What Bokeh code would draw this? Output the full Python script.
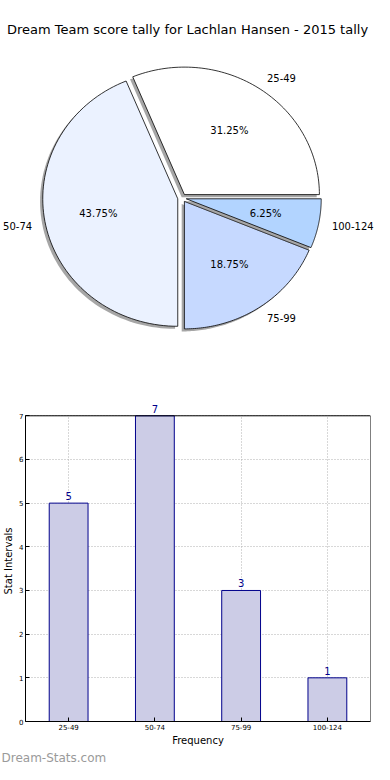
import numpy as np
from bokeh.plotting import figure
from bokeh.layouts import column, row
from bokeh.models import ColumnDataSource, FixedTicker, Label, FactorRange, Title
from bokeh.core.properties import value
from bokeh.embed import file_html
from bokeh.resources import INLINE

# ---- data ----
title_text = "Dream Team score tally for Lachlan Hansen - 2015 tally"
categories = ["25-49", "50-74", "75-99", "100-124"]
counts = [5, 7, 3, 1]
slice_colors = ["#FFFFFF", "#EBF2FF", "#C6D9FF", "#B2D4FF"]
y_ticks = [0, 1, 2, 3, 4, 5, 6, 7]
x_axis_label = "Frequency"
y_axis_label = "Stat Intervals"
watermark = "Dream-Stats.com"

FONT = value("DejaVu Sans")
explode = 0.032
shadow_off = 0.02

# ---- pie ----
p1 = figure(width=374, height=350, output_backend="svg", toolbar_location=None,
            x_range=(-1.3444, 1.4259), y_range=(-1.1961, 1.2353),
            x_axis_location=None, y_axis_location=None,
            min_border_left=0, min_border_right=0, min_border_bottom=0, min_border_top=40)
p1.title.text = title_text
p1.title.align = "center"
p1.title.offset = 5
p1.title.text_font = "DejaVu Sans"
p1.title.text_font_size = "13px"
p1.title.text_font_style = "normal"
p1.title.text_color = "black"
p1.title.standoff = 8
p1.grid.visible = False
p1.outline_line_color = None

total = float(sum(counts))
fracs = np.array(counts) / total
ends = np.cumsum(fracs) * 2 * np.pi
starts = ends - fracs * 2 * np.pi

pct_x, pct_y, pct_t = [], [], []
lab_x, lab_y, lab_align = [], [], []
for i in range(len(counts)):
    a0, a1 = starts[i], ends[i]
    mid = 0.5 * (a0 + a1)
    ox, oy = explode * np.cos(mid), explode * np.sin(mid)
    ang = np.linspace(a0, a1, 80)
    xs = np.concatenate([[ox], ox + np.cos(ang)])
    ys = np.concatenate([[oy], oy + np.sin(ang)])
    p1.patch(xs - shadow_off, ys - shadow_off, fill_color="#4d4d4d", fill_alpha=0.5,
             line_color=None)
    p1.patch(xs, ys, fill_color=slice_colors[i], line_color="black", line_width=0.8)
    pct_x.append(ox + 0.6 * np.cos(mid))
    pct_y.append(oy + 0.6 * np.sin(mid))
    pct_t.append("%.2f%%" % (fracs[i] * 100))
    lab_x.append(ox + 1.1 * np.cos(mid))
    lab_y.append(oy + 1.1 * np.sin(mid))
    lab_align.append("left" if np.cos(mid) >= 0 else "right")

p1.text(x=pct_x, y=pct_y, text=pct_t, text_align="center", text_baseline="middle",
        text_font=FONT, text_font_size="10px", text_color="black")
p1.text(x=lab_x, y=lab_y, text=categories, text_align=lab_align, text_baseline="middle",
        text_font=FONT, text_font_size="10px", text_color="black")

# ---- bar ----
y_top = y_ticks[-1]
p2 = figure(width=374, height=414, output_backend="svg", toolbar_location=None,
            x_range=FactorRange(*categories), y_range=(0, y_top + 0.35),
            min_border_left=0, min_border_right=4, min_border_top=50, min_border_bottom=0)
p2.outline_line_color = None
src = ColumnDataSource(dict(cat=categories, cnt=counts))
p2.vbar(x="cat", top="cnt", width=0.45, source=src, fill_color="#CCCCE6",
        line_color="#00008B", line_width=1)
p2.quad(left=[0], right=[len(categories)], bottom=[0], top=[y_top],
        fill_color=None, line_color="black", line_width=1)
for i, c in enumerate(counts):
    p2.add_layout(Label(x=i + 0.5, y=c, text=str(c), text_align="center",
                        text_baseline="bottom", y_offset=3, text_font="DejaVu Sans",
                        text_font_size="10px", text_color="#00008B"))

for g in (p2.xgrid, p2.ygrid):
    g.grid_line_color = "#b0b0b0"
    g.grid_line_dash = "1 2"
    g.grid_line_width = 1
p2.xgrid.cross_bounds = (0, y_top)
p2.yaxis.ticker = FixedTicker(ticks=y_ticks)
p2.yaxis.bounds = (0, y_top)
for ax in (p2.xaxis, p2.yaxis):
    ax.major_label_text_font = "DejaVu Sans"
    ax.major_label_text_font_size = "7px"
    ax.major_label_text_color = "black"
    ax.major_tick_in = 4
    ax.major_tick_out = 0
    ax.minor_tick_line_color = None
    ax.major_label_standoff = 2
    ax.axis_label_standoff = 2
    ax.axis_label_text_font = "DejaVu Sans"
    ax.axis_label_text_font_size = "10px"
    ax.axis_label_text_font_style = "normal"
    ax.axis_label_text_color = "black"
    ax.axis_line_color = "black"
p2.xaxis.axis_label = x_axis_label
p2.yaxis.axis_label = y_axis_label

p2.add_layout(Title(text=watermark, align="left", offset=-24, text_font="DejaVu Sans",
                    text_font_size="12px", text_color="#9a9a9a",
                    text_font_style="normal", standoff=0), "below")

layout = column(row(p1), row(p2))
open("out.html", "w").write(file_html(layout, INLINE))
